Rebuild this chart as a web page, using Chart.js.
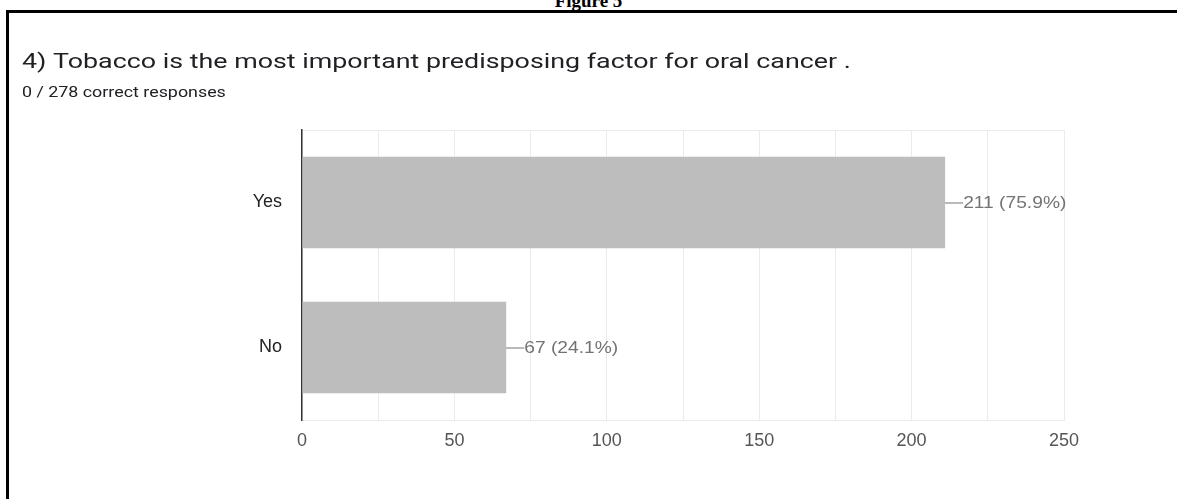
<!DOCTYPE html>
<html>
<head>
<meta charset="utf-8">
<title>Figure 5</title>
<script src="https://cdn.jsdelivr.net/npm/chart.js@4/dist/chart.umd.min.js"></script>
<style>
  html, body { margin: 0; padding: 0; background: #fff; }
  #page { position: relative; width: 1177px; height: 499px; overflow: hidden; }
  #chart-wrap { position: absolute; left: 0; top: 0; width: 1177px; height: 499px; }
  #frame {
    position: absolute; left: 6px; top: 10px; right: 0; bottom: 0;
    border-top: 3px solid #000; border-left: 3px solid #000;
    pointer-events: none;
  }
  #fig-caption {
    position: absolute; left: 0; width: 1177px; top: -9px;
    text-align: center; font: bold 19px/1 'Liberation Serif', 'Times New Roman', serif;
    color: #000;
  }
</style>
</head>
<body>
<div id="page">
  <div id="fig-caption">Figure 5</div>
  <div id="chart-wrap"><canvas id="answers-chart"></canvas></div>
  <div id="frame"></div>
</div>
<script>
// ─── Data ─────────────────────────────────────────
const questionTitle = '4) Tobacco is the most important predisposing factor for oral cancer .';
const questionSubtitle = '0 / 278 correct responses';
const answers = ['Yes', 'No'];
const responses = [211, 67];
const xTicks = [0, 50, 100, 150, 200, 250];

const totalResponses = responses.reduce((a, b) => a + b, 0);

// draw text stretched horizontally (the export is a bit wide)
function stretchedText(ctx, text, x, y, sx) {
  ctx.save();
  ctx.translate(x, y);
  ctx.scale(sx, 1);
  ctx.fillText(text, 0, 0);
  ctx.restore();
}

// ─── Question header ─────────────────────────────
const questionHeader = {
  id: 'questionHeader',
  afterDraw(chart) {
    const { ctx } = chart;
    ctx.save();
    ctx.fillStyle = '#202124';
    ctx.textAlign = 'left';
    ctx.textBaseline = 'alphabetic';
    ctx.font = "21px Roboto, 'Noto Sans', sans-serif";
    stretchedText(ctx, questionTitle, 22, 68, 1.277);
    ctx.font = "15px Roboto, 'Noto Sans', sans-serif";
    stretchedText(ctx, questionSubtitle, 22, 97, 1.19);
    ctx.restore();
  },
};

// ─── Value labels with a short leader line ───────
const valueLabels = {
  id: 'valueLabels',
  afterDatasetsDraw(chart) {
    const { ctx } = chart;
    const meta = chart.getDatasetMeta(0);
    ctx.save();
    meta.data.forEach((bar, i) => {
      const v = responses[i];
      const pct = (v / totalResponses * 100).toFixed(1);
      ctx.strokeStyle = '#8a8a8a';
      ctx.lineWidth = 1.2;
      ctx.beginPath();
      ctx.moveTo(bar.x, bar.y + 0.5);
      ctx.lineTo(bar.x + 18, bar.y + 0.5);
      ctx.stroke();
      ctx.fillStyle = '#737373';
      ctx.font = "17px 'Liberation Sans', Arial, sans-serif";
      ctx.textAlign = 'left';
      ctx.textBaseline = 'middle';
      stretchedText(ctx, `${v} (${pct}%)`, bar.x + 18, bar.y + 1, 1.13);
    });
    ctx.restore();
  },
};

// ─── Chart ───────────────────────────────────────
const gridColor = '#ebebeb';

new Chart(document.getElementById('answers-chart'), {
  type: 'bar',
  data: {
    labels: answers,
    datasets: [{
      data: responses,
      backgroundColor: '#bdbdbd',
      categoryPercentage: 1,
      barPercentage: 0.63,
    }],
  },
  options: {
    indexAxis: 'y',
    responsive: true,
    maintainAspectRatio: false,
    animation: false,
    layout: { padding: { left: 22, top: 130, right: 113, bottom: 39 } },
    plugins: {
      legend: { display: false },
      tooltip: { enabled: false },
    },
    scales: {
      x: {
        min: 0,
        max: 250,
        afterBuildTicks: (scale) => {
          // minor gridlines every 25, labels every 50
          const t = [];
          for (let v = 0; v <= 250; v += 25) t.push({ value: v });
          scale.ticks = t;
        },
        afterFit: (scale) => { scale.height = 40; },
        grid: { color: gridColor, drawTicks: false },
        border: { color: gridColor },
        ticks: {
          padding: 10,
          color: '#555',
          font: { size: 18, family: "'Liberation Sans', Arial, sans-serif" },
          autoSkip: false,
          maxRotation: 0,
          callback: (v) => (xTicks.includes(v) ? String(v) : ''),
        },
      },
      y: {
        afterFit: (scale) => { scale.width = 280; },
        grid: {
          drawTicks: false,
          color: (c) => (c.index === 1 ? 'rgba(0,0,0,0)' : gridColor),
        },
        border: { color: '#333', width: 1.5 },
        ticks: {
          padding: 20,
          color: '#222',
          font: { size: 18, family: "'Liberation Sans', Arial, sans-serif" },
        },
      },
    },
  },
  plugins: [valueLabels, questionHeader],
});
</script>
</body>
</html>
